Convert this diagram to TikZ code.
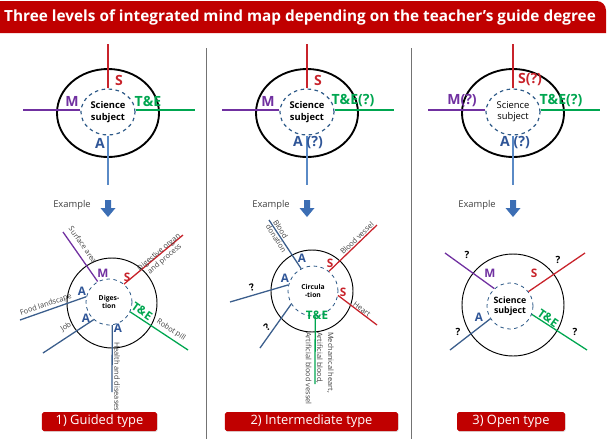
\documentclass[tikz,border=0pt]{standalone}
\usepackage{fontspec}
\setmainfont{Open Sans}
\usetikzlibrary{shapes.geometric,shadows}
\definecolor{hdrred}{HTML}{C00000}
\definecolor{sred}{HTML}{C8232B}
\definecolor{mpurple}{HTML}{7030A0}
\definecolor{tgreen}{HTML}{00A650}
\definecolor{ablue}{HTML}{2F5597}
\definecolor{lblue}{HTML}{5A8AC6}
\definecolor{dblue}{HTML}{3B5E8C}
\definecolor{hubblue}{HTML}{2E5A88}
\definecolor{arrblue}{HTML}{3C6EB4}
\definecolor{txtgrey}{HTML}{404040}
\tikzset{
  rim/.style={line width=1.6pt},
  thinrim/.style={line width=0.8pt},
  hub/.style={ellipse, draw=hubblue, dashed, line width=1pt, minimum width=1.62cm,
    minimum height=1.38cm, inner sep=0pt, align=center},
  hubbold/.style={font=\fontsize{8}{9.5}\selectfont\bfseries},
  hublight/.style={font=\fontsize{8}{9.5}\selectfont},
  hubsmall/.style={circle, draw=hubblue, dashed, line width=0.7pt, minimum size=1.38cm,
    inner sep=0pt, align=center, font=\fontsize{5.8}{7}\selectfont\bfseries},
  branch/.style={line width=1.1pt},
  toplbl/.style={font=\fontsize{12}{13}\selectfont\bfseries},
  lbl/.style={font=\fontsize{10}{11}\selectfont\bfseries},
  note/.style={text=txtgrey, font=\fontsize{6.3}{7.5}\selectfont},
  qmark/.style={font=\fontsize{8.5}{9}\selectfont\bfseries},
  typebox/.style={fill=hdrred, text=white, minimum height=0.57cm, rounded corners=1.5pt,
    font=\fontsize{11}{12}\selectfont, drop shadow={opacity=0.25, shadow xshift=0.6pt, shadow yshift=-0.8pt}},
  sep/.style={draw=black!55, line width=0.7pt}
}
\begin{document}
\begin{tikzpicture}[x=0.03cm, y=-0.03cm, every node/.style={inner sep=0pt}]
    \useasboundingbox (0,0) rectangle (611,439);
    % header
    \fill[hdrred] (0,33) -- (0,1) [rounded corners=8pt] -- (606,1) [sharp corners] -- (606,33) -- cycle;
    \node[anchor=west, text=white, font=\fontsize{13.1}{15}\selectfont\bfseries] (title) at (4,17)
        {Three levels of integrated mind map depending on the teacher’s guide degree};
    \draw[sep] (206,48) -- (206,439);
    \draw[sep] (411,48) -- (411,439);
    % top diagrams
    \foreach \n/\cx/\w in {1/108/hubbold,2/307/hubbold,3/513/hublight}{
        \draw[rim] (\cx,113) ellipse [x radius=51, y radius=44];
        \node[hub, \w] (h\n) at (\cx,112) {Science\\subject};
        \coordinate (hs\n) at (\cx,44);
        \coordinate (hm\n) at (\cx-85,110);
        \coordinate (ht\n) at (\cx+87,110);
        \coordinate (ha\n) at (\cx,185);
        \draw[branch, sred] (h\n.north) -- (hs\n);
        \draw[branch, mpurple] (h\n.west |- hm\n) -- (hm\n);
        \draw[branch, tgreen] (h\n.east |- ht\n) -- (ht\n);
        \draw[branch, lblue] (h\n.south) -- (ha\n);
        \node[text=txtgrey, font=\fontsize{8}{9}\selectfont] (ex\n) at (\cx-36,205) {Example};
        \fill[arrblue] (\cx-3,200) -- (\cx+3,200) -- (\cx+3,208) -- (\cx+7.5,208) -- (\cx,217)
            -- (\cx-7.5,208) -- (\cx-3,208) -- cycle;
    }
    \node[toplbl, text=sred] (s1) at (119,80) {S};
    \node[toplbl, text=mpurple] (m1) at (72,101) {M};
    \node[toplbl, text=tgreen] (t1) at (148,101) {T\&E};
    \node[toplbl, text=ablue] (a1) at (100,143) {A};
    \node[toplbl, text=sred] (s2) at (318,80) {S};
    \node[toplbl, text=mpurple] (m2) at (268,101) {M};
    \node[toplbl, text=tgreen] (t2) at (353,101) {T\&E(?)};
    \node[toplbl, text=ablue] (a2) at (308,143) {A (?)};
    \node[toplbl, text=sred] (s3) at (530,80) {S(?)};
    \node[toplbl, text=mpurple] (m3) at (462,101) {M(?)};
    \node[toplbl, text=tgreen] (t3) at (561,101) {T\&E(?)};
    \node[toplbl, text=ablue] (a3) at (515,143) {A (?)};
    % guided type
    \draw[thinrim] (112,303) circle [radius=45];
    \node[hubsmall] (dig) at (109,302) {Diges-\\tion};
    \coordinate (dM) at (63,232);
    \coordinate (dS) at (183,235);
    \coordinate (dT) at (188,350);
    \coordinate (dA1) at (20,320);
    \coordinate (dA2) at (43,353);
    \coordinate (dA3) at (112,392);
    \draw[branch, mpurple] (dig.119) -- (dM);
    \draw[branch, sred] (dig.50) -- (dS);
    \draw[branch, tgreen] (dig.-25) -- (dT);
    \draw[branch, dblue] (dig.167) -- (dA1);
    \draw[branch, dblue] (dig.-131) -- (dA2);
    \draw[branch, dblue] (dig.-82) -- (dA3);
    \node[lbl, text=mpurple] (dml) at (103,273) {M};
    \node[lbl, text=sred] (dsl) at (127,277) {S};
    \node[lbl, text=tgreen, rotate=-35] (dtl) at (142,311) {T\&E};
    \node[lbl, text=ablue] (da1l) at (82,291) {A};
    \node[lbl, text=ablue] (da2l) at (86,318) {A};
    \node[lbl, text=ablue] (da3l) at (118,328) {A};
    \node[note, rotate=-55] (surf) at (83,245) {Surface area};
    \node[note, rotate=40, align=center] (organ) at (162,256) {Digestive organ\\and process};
    \node[note, rotate=-33] (pill) at (171,330) {Robot pill};
    \node[note, rotate=19] (food) at (46,305) {Food landscape};
    \node[note, rotate=34] (job) at (66,327) {Job};
    \node[note, rotate=-90, anchor=south west] (health) at (114,342) {Health and diseases};
    % intermediate type
    \draw[thinrim] (312,291) circle [radius=41];
    \node[hubsmall, minimum size=1.5cm] (circ) at (313,291) {Circula\\-tion};
    \coordinate (cA1) at (269,220);
    \coordinate (cA2) at (230,302);
    \coordinate (cA3) at (260,348);
    \coordinate (cS1) at (377,225);
    \coordinate (cS2) at (377,325);
    \coordinate (cT) at (315,384);
    \draw[branch, dblue] (circ.118) -- (cA1);
    \draw[branch, dblue] (circ.166) -- (cA2);
    \draw[branch, dblue] (circ.211) -- (cA3);
    \draw[branch, sred] (circ.51) -- (cS1);
    \draw[branch, sred] (circ.-10) -- (cS2);
    \draw[branch, tgreen] (circ.-85) -- (cT);
    \node[lbl, text=ablue] (ca1l) at (302,258) {A};
    \node[lbl, text=ablue] (ca2l) at (285,278) {A};
    \node[lbl, text=sred] (cs1l) at (330,263) {S};
    \node[lbl, text=sred] (cs2l) at (343,292) {S};
    \node[lbl, text=tgreen] (ctl) at (317,315) {T\&E};
    \node[qmark, rotate=16] (cq1) at (252,287) {?};
    \node[qmark, rotate=40] (cq2) at (267,327) {?};
    \node[note, rotate=-57, align=left] (donat) at (280,236) {Blood\\donation};
    \node[note, rotate=44] (vessel) at (357,238) {Blood vessel};
    \node[note, rotate=-37] (heart) at (362,309) {Heart};
    \node[note, rotate=-90, anchor=north west, align=left, font=\fontsize{6.3}{9.5}\selectfont] (mech) at (334,332)
        {Mechanical heart,\\Artificial blood,\\Artificial blood vessel};
    % open type
    \draw[thinrim] (513,305) circle [radius=51];
    \node[hubsmall, font=\fontsize{7.5}{9}\selectfont\bfseries] (sci) at (510,306) {Science\\subject};
    \coordinate (oM) at (445,253);
    \coordinate (oS) at (585,253);
    \coordinate (oA) at (450,350);
    \coordinate (oT) at (587,350);
    \draw[branch, mpurple] (sci.132) -- (oM);
    \draw[branch, sred] (sci.38) -- (oS);
    \draw[branch, dblue] (sci.213) -- (oA);
    \draw[branch, tgreen] (sci.-21) -- (oT);
    \node[lbl, text=mpurple] (oml) at (490,273) {M};
    \node[lbl, text=sred] (osl) at (534,273) {S};
    \node[lbl, text=ablue] (oal) at (479,317) {A};
    \node[lbl, text=tgreen, rotate=-35] (otl) at (548,318) {T\&E};
    \node[qmark] (oq1) at (467,255) {?};
    \node[qmark] (oq2) at (558,260) {?};
    \node[qmark] (oq3) at (458,332) {?};
    \node[qmark] (oq4) at (575,332) {?};
    % type labels
    \node[typebox, minimum width=3.45cm] (guided) at (99.5,421.5) {1) Guided type};
    \node[typebox, minimum width=5.19cm] (inter) at (311.5,421.5) {2) Intermediate type};
    \node[typebox, minimum width=3.24cm] (open) at (511,421.5) {3) Open type};
\end{tikzpicture}
\end{document}
